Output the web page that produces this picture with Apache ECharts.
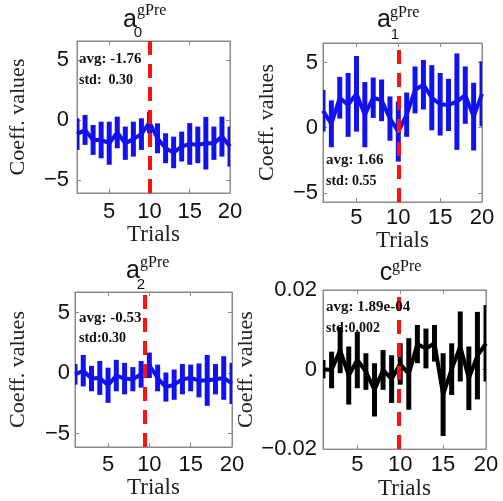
<!DOCTYPE html>
<html>
<head>
<meta charset="utf-8">
<script src="https://cdn.jsdelivr.net/npm/echarts@6/dist/echarts.min.js"></script>
<style>
  html, body { margin: 0; padding: 0; background: #fff; }
  #chart { width: 503px; height: 501px; }
</style>
</head>
<body>
<div id="chart"></div>
<script>
// trial numbers on the x axis
const trials = [1, 2, 3, 4, 5, 6, 7, 8, 9, 10, 11, 12, 13, 14, 15, 16, 17, 18, 19, 20];

// a0 gPre
const a0Mean = [-1.18, -0.83, -1.67, -1.67, -1.94, -1.04, -1.94, -1.60, -1.18, -0.21, -1.53, -2.36, -2.71, -2.22, -2.00, -2.08, -1.94, -1.94, -1.39, -2.22];
const a0Err = [1.32, 1.25, 1.25, 1.53, 1.80, 1.32, 1.39, 1.46, 1.32, 0.90, 1.25, 1.25, 1.32, 1.25, 1.74, 1.53, 2.20, 1.39, 1.67, 1.67];

// a1 gPre
const a1Mean = [1.30, 0.30, 2.30, 1.75, 2.60, 1.00, 2.30, 2.10, 0.70, -0.30, 1.00, 2.90, 3.30, 2.30, 1.80, 1.75, 2.00, 2.50, 0.85, 2.60];
const a1Err = [1.60, 1.80, 1.60, 2.45, 2.90, 2.50, 1.55, 1.60, 1.70, 2.30, 1.70, 1.80, 1.90, 2.50, 2.40, 2.00, 3.70, 2.20, 2.60, 2.50];

// a2 gPre
const a2Mean = [-0.10, 0.20, -0.45, -0.40, -1.00, -0.20, -0.45, -0.50, -0.10, 0.65, -0.40, -1.15, -0.95, -0.50, -0.40, -0.60, -0.60, -0.50, -0.40, -0.85];
const a2Err = [0.85, 1.30, 1.05, 1.40, 1.45, 1.30, 1.30, 1.00, 1.10, 1.05, 1.10, 1.20, 1.25, 1.25, 1.10, 1.40, 2.10, 1.25, 1.80, 1.70];

// c gPre
const cMean = [0.0001, -0.0001, 0.0049, -0.0015, 0.0024, -0.0005, -0.0051, -0.0001, -0.0024, 0.0014, -0.0011, 0.0064, 0.0053, 0.0066, -0.0063, 0.0001, 0.0058, -0.0022, 0.0035, 0.0066];
const cErr = [0.0023, 0.0046, 0.0058, 0.0073, 0.0071, 0.0046, 0.0067, 0.0050, 0.0060, 0.0052, 0.0090, 0.0048, 0.0050, 0.0046, 0.0104, 0.0065, 0.0088, 0.0080, 0.0110, 0.0096];

// tick labels
const xTicks = [5, 10, 15, 20];
const yTicksA = [-5, 0, 5];
const yTicksC = [-0.02, 0, 0.02];

// where the red dashed marker sits in each panel
const markerX = [10, 10, 9.5, 9.8];

const avgText = ['avg: -1.76', 'avg: 1.66', 'avg: -0.53', 'avg: 1.89e-04'];
const stdText = ['std:  0.30', 'std: 0.55', 'std:0.30', 'std:0.002'];

const panels = [
  { mean: a0Mean, err: a0Err, color: '#1212ee', yMin: -6.1, yMax: 6.6, yTicks: yTicksA,
    grid: { left: 77, top: 41, width: 153, height: 152 }, xGap: 23, yGap: 48, xMargin: 8, yMargin: 8 },
  { mean: a1Mean, err: a1Err, color: '#1212ee', yMin: -5.7, yMax: 6.5, yTicks: yTicksA,
    grid: { left: 323, top: 43, width: 159, height: 159 }, xGap: 27, yGap: 45, xMargin: 5, yMargin: 5 },
  { mean: a2Mean, err: a2Err, color: '#1212ee', yMin: -6.1, yMax: 6.7, yTicks: yTicksA,
    grid: { left: 75, top: 292, width: 157, height: 155 }, xGap: 26, yGap: 46, xMargin: 7, yMargin: 5 },
  { mean: cMean, err: cErr, color: '#000000', yMin: -0.02, yMax: 0.02, yTicks: yTicksC,
    grid: { left: 323, top: 290, width: 163, height: 162 }, xGap: 27, yGap: 50, xMargin: 5, yMargin: 6 }
];

const gray = '#8a8a8a';
const tickFont = { fontFamily: 'Liberation Sans, Arial, sans-serif', fontSize: 22, color: '#111' };
const nameFont = { fontFamily: 'Liberation Serif, Times New Roman, serif', fontSize: 22, color: '#222' };

const fmtNum = v => String(v).replace('-', '\u2212');

const grids = [], xAxes = [], yAxes = [], series = [];

panels.forEach((p, k) => {
  grids.push(Object.assign({ show: true, borderColor: gray, borderWidth: 1, containLabel: false }, p.grid));

  // bottom axis with labels
  xAxes.push({
    type: 'value', gridIndex: k, min: 1, max: 20, position: 'bottom',
    axisLine: { onZero: false, lineStyle: { color: gray } },
    axisTick: { inside: true, length: 4, customValues: xTicks, lineStyle: { color: gray } },
    axisLabel: Object.assign({ customValues: xTicks, margin: p.xMargin }, tickFont),
    splitLine: { show: false },
    name: 'Trials', nameLocation: 'middle', nameGap: p.xGap,
    nameTextStyle: Object.assign({}, nameFont, { fontSize: 23 })
  });
  // top mirror ticks
  xAxes.push({
    type: 'value', gridIndex: k, min: 1, max: 20, position: 'top',
    axisLine: { onZero: false, lineStyle: { color: gray } },
    axisTick: { inside: true, length: 4, customValues: xTicks, lineStyle: { color: gray } },
    axisLabel: { show: false }, splitLine: { show: false }
  });

  yAxes.push({
    type: 'value', gridIndex: k, min: p.yMin, max: p.yMax, position: 'left',
    axisLine: { onZero: false, lineStyle: { color: gray } },
    axisTick: { inside: true, length: 4, customValues: p.yTicks, lineStyle: { color: gray } },
    axisLabel: Object.assign({ customValues: p.yTicks, margin: p.yMargin, formatter: fmtNum }, tickFont),
    splitLine: { show: false },
    name: 'Coeff. values', nameLocation: 'middle', nameGap: p.yGap,
    nameTextStyle: nameFont
  });
  yAxes.push({
    type: 'value', gridIndex: k, min: p.yMin, max: p.yMax, position: 'right',
    axisLine: { onZero: false, lineStyle: { color: gray } },
    axisTick: { inside: true, length: 4, customValues: p.yTicks, lineStyle: { color: gray } },
    axisLabel: { show: false }, splitLine: { show: false }
  });

  const xi = k * 2, yi = k * 2;

  // error bars
  series.push({
    type: 'custom', xAxisIndex: xi, yAxisIndex: yi, clip: true, z: 2,
    data: trials.map((t, i) => [t, p.mean[i] - p.err[i], p.mean[i] + p.err[i]]),
    encode: { x: 0, y: [1, 2] },
    renderItem: (params, api) => {
      const x = api.value(0);
      const lo = api.coord([x, api.value(1)]);
      const hi = api.coord([x, api.value(2)]);
      return {
        type: 'line',
        shape: { x1: lo[0], y1: lo[1], x2: hi[0], y2: hi[1] },
        style: { stroke: p.color, lineWidth: 5 }
      };
    }
  });

  // mean line with dashed marker
  series.push({
    type: 'line', xAxisIndex: xi, yAxisIndex: yi, z: 3,
    data: trials.map((t, i) => [t, p.mean[i]]),
    showSymbol: false, symbol: 'none',
    lineStyle: { color: p.color, width: 4 },
    clip: true, animation: false,
    markLine: {
      silent: true, symbol: 'none', animation: false,
      label: { show: false },
      lineStyle: { color: '#ff1010', width: 4, type: [14, 9] },
      data: [{ xAxis: markerX[k] }]
    }
  });
});

// titles and annotations as text
const graphics = [];
const serif = 'Liberation Serif, Times New Roman, serif';
const sans = 'Liberation Sans, Arial, sans-serif';

function txt(x, y, text, font, align) {
  graphics.push({
    type: 'text', x: x, y: y, silent: true, z: 10,
    style: { text: text, font: font, fill: '#111', align: align || 'left', verticalAlign: 'middle' }
  });
}

// panel titles: base, subscript, superscript
const titleBase = ['a', 'a', 'a', 'c'];
const titleSub = ['0', '1', '2', ''];
const titlePos = [
  { bx: 130, by: 20, sx: 138, sy: 33, px: 137, py: 11 },
  { bx: 384, by: 20, sx: 395, sy: 35, px: 390, py: 13 },
  { bx: 133, by: 271, sx: 141, sy: 285, px: 140, py: 263 },
  { bx: 386, by: 273, sx: 0, sy: 0, px: 392, py: 267 }
];
titlePos.forEach((t, k) => {
  txt(t.bx, t.by, titleBase[k], '25px ' + sans, 'center');
  if (titleSub[k]) txt(t.sx, t.sy, titleSub[k], '15px ' + sans, 'center');
  txt(t.px, t.py, 'gPre', '16px ' + serif);
});

const notePos = [
  { x: 79, ay: 59, sy: 80 },
  { x: 326, ay: 160, sy: 181 },
  { x: 79, ay: 318, sy: 338 },
  { x: 326, ay: 307, sy: 328 }
];
notePos.forEach((n, k) => {
  txt(n.x, n.ay, avgText[k], 'bold 15px ' + serif);
  txt(n.x, n.sy, stdText[k], 'bold 14px ' + serif);
});

const chart = echarts.init(document.getElementById('chart'));
chart.setOption({
  animation: false,
  backgroundColor: '#fff',
  grid: grids,
  xAxis: xAxes,
  yAxis: yAxes,
  series: series,
  graphic: graphics
});
</script>
</body>
</html>
